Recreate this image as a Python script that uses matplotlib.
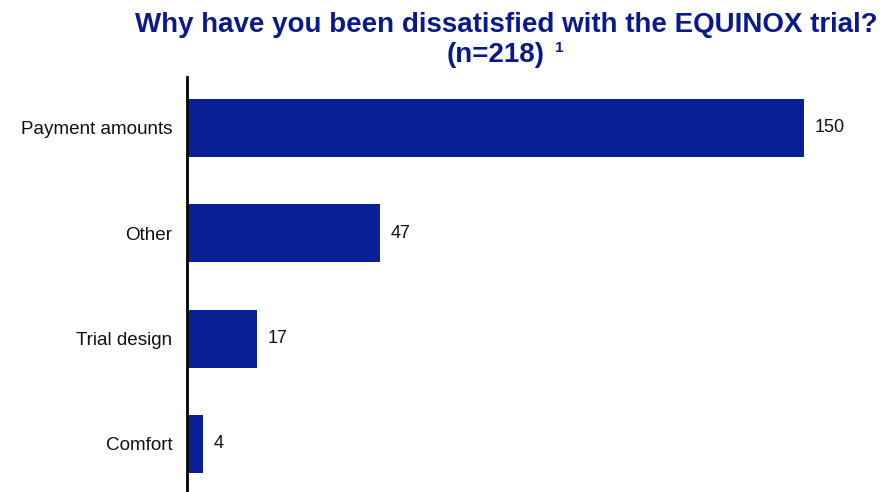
import matplotlib
matplotlib.use("Agg")
import matplotlib.pyplot as plt

categories = ["Comfort", "Trial design", "Other", "Payment amounts"]
counts = [4, 17, 47, 150]
title_line1 = "Why have you been dissatisfied with the EQUINOX trial?"
title_line2 = "(n=218)"
footnote_mark = "1"

BAR_COLOR = "#0a2196"
TITLE_COLOR = "#0a1a8c"

plt.rcParams["font.family"] = ["Liberation Sans", "DejaVu Sans"]

fig = plt.figure(figsize=(8.89, 4.92), dpi=100)
ax = fig.add_axes([187 / 889, 0, 702 / 889, (492 - 77) / 492])

ypos = list(range(len(categories)))
ax.barh(ypos, counts, height=0.55, color=BAR_COLOR, zorder=2)
ax.set_xlim(0, 702 / (617 / 150))
ax.set_ylim(-0.456, 3.484)

ax.set_yticks(ypos)
ax.set_yticklabels(categories, fontsize=13.6, color="#111111")
ax.tick_params(axis="y", length=0, pad=10.5)
ax.set_xticks([])
for side in ("top", "right", "bottom"):
    ax.spines[side].set_visible(False)
ax.spines["left"].set_linewidth(2)
ax.spines["left"].set_color("black")

for y, v in zip(ypos, counts):
    ax.annotate(str(v), (v, y), xytext=(7.5, 0), textcoords="offset points",
                va="center", ha="left", fontsize=13, color="#111111")

fig.text(506 / 889, 1 - 25 / 492, title_line1, ha="center", va="center",
         fontsize=20, fontweight="bold", color=TITLE_COLOR)
fig.text(496 / 889, 1 - 55 / 492, title_line2, ha="center", va="center",
         fontsize=20, fontweight="bold", color=TITLE_COLOR)
fig.text(555 / 889, 1 - 48 / 492, footnote_mark, ha="left", va="center",
         fontsize=11, fontweight="bold", color=TITLE_COLOR)

fig.savefig("out.png", dpi=100)
